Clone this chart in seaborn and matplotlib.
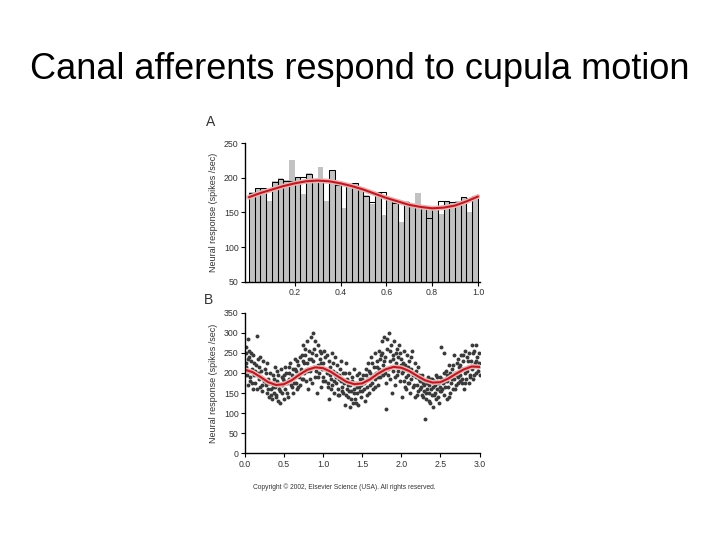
import matplotlib
matplotlib.use("Agg")
import matplotlib.pyplot as plt
import seaborn as sns
import numpy as np
import pandas as pd

sns.set_style("white")
plt.rcParams['font.family'] = ['Liberation Sans', 'DejaVu Sans']

# panel A: spike counts per bin over one cycle (grey bars and open outlined bars)
bin_lefts = [i / 40 for i in range(40)]
gray_rate = [179, 184, 186, 167, 195, 199, 197, 226, 200, 177,
             207, 193, 215, 167, 211, 190, 156, 192, 192, 183,
             175, 162, 180, 146, 170, 165, 137, 166, 160, 178,
             160, 159, 158, 148, 167, 165, 166, 173, 151, 174]
open_rate = [178, 185, 186, 183, 194, 198, 196, 196, 201, 201,
             206, 197, 195, 194, 211, 190, 190, 191, 192, 182,
             174, 165, 179, 179, 169, 164, 164, 165, 160, 161,
             160, 142, 157, 167, 166, 165, 165, 172, 171, 174]
fit_a_x = [0.0, 0.05, 0.1, 0.15, 0.2, 0.25, 0.3, 0.35, 0.4, 0.45, 0.5,
           0.55, 0.6, 0.65, 0.7, 0.75, 0.8, 0.85, 0.9, 0.95, 1.0]
fit_a_y = [172, 178, 183, 188, 192, 195, 196, 195, 192, 188, 183,
           177, 171, 166, 161, 158, 156, 157, 160, 166, 173]

# panel B: individual responses over three cycles
b_x = [0.01, 0.02, 0.02, 0.03, 0.04, 0.05, 0.05, 0.06, 0.07, 0.08, 0.09, 0.10, 0.11, 0.12, 0.13, 0.14, 0.15, 0.17, 0.18, 0.19, 0.20, 0.21, 0.22, 0.24,
       0.26, 0.27, 0.28, 0.29, 0.30, 0.31, 0.32, 0.33, 0.34, 0.35, 0.36, 0.37, 0.38, 0.39, 0.40, 0.41, 0.42, 0.43, 0.44, 0.45, 0.46, 0.47, 0.48, 0.49,
       0.50, 0.51, 0.52, 0.54, 0.55, 0.56, 0.57, 0.58, 0.60, 0.61, 0.62, 0.63, 0.64, 0.65, 0.66, 0.67, 0.68, 0.69, 0.70, 0.71, 0.72, 0.73, 0.74,
       0.75, 0.76, 0.77, 0.78, 0.79, 0.80, 0.81, 0.82, 0.83, 0.84, 0.85, 0.86, 0.87, 0.88, 0.89, 0.90, 0.91, 0.92, 0.93, 0.94, 0.95, 0.96, 0.97, 0.98, 0.99,
       1.00, 1.01, 1.02, 1.03, 1.05, 1.06, 1.07, 1.08, 1.09, 1.10, 1.11, 1.12, 1.13, 1.14, 1.15, 1.16, 1.17, 1.18, 1.19, 1.20, 1.21, 1.22, 1.23, 1.24,
       1.25, 1.26, 1.27, 1.28, 1.29, 1.30, 1.31, 1.32, 1.33, 1.34, 1.35, 1.36, 1.37, 1.38, 1.39, 1.40, 1.41, 1.42, 1.43, 1.44, 1.45, 1.46, 1.47, 1.48, 1.49,
       1.50, 1.51, 1.52, 1.54, 1.55, 1.56, 1.57, 1.58, 1.59, 1.60, 1.61, 1.62, 1.63, 1.64, 1.65, 1.66, 1.67, 1.68, 1.69, 1.70, 1.71, 1.72, 1.73, 1.74,
       1.75, 1.76, 1.77, 1.78, 1.79, 1.80, 1.81, 1.82, 1.83, 1.84, 1.85, 1.86, 1.87, 1.88, 1.89, 1.90, 1.91, 1.92, 1.93, 1.94, 1.95, 1.96, 1.97, 1.98, 1.99,
       2.00, 2.01, 2.02, 2.03, 2.04, 2.05, 2.06, 2.07, 2.08, 2.09, 2.10, 2.11, 2.12, 2.13, 2.14, 2.15, 2.16, 2.17, 2.18, 2.19, 2.20, 2.21, 2.22, 2.23, 2.24,
       2.25, 2.26, 2.27, 2.28, 2.29, 2.30, 2.31, 2.32, 2.33, 2.34, 2.35, 2.36, 2.37, 2.38, 2.39, 2.40, 2.41, 2.42, 2.43, 2.44, 2.45, 2.46, 2.47, 2.48, 2.49,
       2.50, 2.51, 2.52, 2.53, 2.54, 2.55, 2.56, 2.57, 2.58, 2.59, 2.60, 2.61, 2.62, 2.63, 2.64, 2.65, 2.66, 2.67, 2.68, 2.69, 2.70, 2.71, 2.72, 2.73, 2.74,
       2.75, 2.76, 2.77, 2.78, 2.79, 2.80, 2.81, 2.82, 2.83, 2.84, 2.85, 2.86, 2.87, 2.88, 2.89, 2.90, 2.91, 2.92, 2.93, 2.94, 2.95, 2.96, 2.97, 2.98, 2.99, 3.00]
b_y = [250, 265, 225, 195, 285, 240, 205, 255, 180, 230, 210, 160, 245, 195, 175, 220, 292, 200, 185, 165, 240, 205, 155, 180,
       210, 170, 150, 225, 185, 140, 200, 160, 175, 135, 195, 150, 215, 165, 145, 180, 130, 195, 160, 125, 210, 170, 150, 185,
       195, 160, 215, 175, 140, 200, 185, 225, 165, 210, 150, 190, 235, 175, 205, 160, 220, 190, 240, 170, 210, 185, 230,
       270, 200, 245, 180, 280, 225, 160, 255, 205, 290, 235, 175, 300, 215, 260, 190, 245, 150, 270, 220, 200, 235, 165, 250, 210,
       225, 255, 180, 240, 200, 165, 230, 135, 215, 185, 250, 170, 205, 150, 240, 190, 175, 220, 160, 195, 145, 210, 180, 165,
       200, 150, 175, 120, 225, 160, 185, 140, 200, 115, 170, 155, 190, 125, 160, 210, 135, 175, 150, 195, 120, 165, 185, 140, 170,
       155, 195, 175, 130, 210, 165, 185, 225, 150, 200, 240, 175, 190, 160, 215, 250, 185, 200, 230, 170, 255, 210, 190, 245,
       280, 220, 195, 290, 240, 110, 175, 260, 210, 300, 230, 185, 270, 150, 245, 205, 280, 170, 225, 260, 195, 240, 215, 180, 250,
       235, 140, 205, 255, 180, 220, 160, 245, 195, 175, 230, 150, 210, 185, 255, 165, 200, 140, 225, 190, 170, 215, 155, 195, 180,
       165, 145, 195, 175, 155, 85, 180, 135, 160, 190, 150, 170, 125, 185, 145, 165, 115, 180, 150, 195, 135, 160, 175, 125, 155,
       190, 265, 160, 175, 145, 250, 180, 205, 135, 195, 165, 220, 150, 190, 175, 210, 160, 245, 185, 200, 170, 225, 190, 175, 215,
       195, 245, 175, 210, 230, 160, 255, 200, 185, 240, 215, 175, 250, 195, 230, 270, 210, 185, 255, 225, 200, 270, 240, 215, 250, 195]
b2_x = [0.015, 0.035, 0.045, 0.065, 0.085, 0.095, 0.115, 0.135, 0.155, 0.165, 0.185, 0.205, 0.225, 0.235,
        0.255, 0.275, 0.295, 0.315, 0.335, 0.355, 0.375, 0.395, 0.415, 0.435, 0.455, 0.475, 0.495,
        0.505, 0.525, 0.545, 0.565, 0.585, 0.605, 0.625, 0.645, 0.665, 0.685, 0.705, 0.725, 0.745,
        0.755, 0.775, 0.795, 0.815, 0.835, 0.855, 0.875, 0.895, 0.915, 0.935, 0.955, 0.975, 0.995,
        1.005, 1.025, 1.045, 1.065, 1.085, 1.105, 1.125, 1.145, 1.165, 1.185, 1.205, 1.225, 1.245,
        1.255, 1.275, 1.295, 1.315, 1.335, 1.355, 1.375, 1.395, 1.415, 1.435, 1.455, 1.475, 1.495,
        1.505, 1.525, 1.545, 1.565, 1.585, 1.605, 1.625, 1.645, 1.665, 1.685, 1.705, 1.725, 1.745,
        1.755, 1.775, 1.795, 1.815, 1.835, 1.855, 1.875, 1.895, 1.915, 1.935, 1.955, 1.975, 1.995,
        2.005, 2.025, 2.045, 2.065, 2.085, 2.105, 2.125, 2.145, 2.165, 2.185, 2.205, 2.225, 2.245,
        2.255, 2.275, 2.295, 2.315, 2.335, 2.355, 2.375, 2.395, 2.415, 2.435, 2.455, 2.475, 2.495,
        2.505, 2.525, 2.545, 2.565, 2.585, 2.605, 2.625, 2.645, 2.665, 2.685, 2.705, 2.725, 2.745,
        2.755, 2.775, 2.795, 2.815, 2.835, 2.855, 2.875, 2.895, 2.915, 2.935, 2.955, 2.975, 2.995]
b2_y = [215, 170, 235, 190, 250, 175, 225, 205, 160, 235, 215, 190, 170, 230,
        180, 200, 160, 175, 145, 165, 185, 140, 205, 170, 155, 190, 135,
        180, 200, 150, 215, 170, 195, 175, 210, 230, 165, 200, 245, 185,
        225, 260, 205, 235, 185, 250, 230, 280, 205, 190, 255, 225, 180,
        190, 210, 245, 175, 195, 160, 225, 180, 200, 145, 185, 230, 155,
        180, 200, 145, 170, 155, 135, 180, 150, 125, 165, 200, 155, 185,
        180, 160, 195, 145, 205, 170, 225, 195, 165, 215, 190, 235, 200,
        250, 230, 200, 285, 195, 255, 215, 235, 190, 250, 205, 270, 220,
        200, 225, 165, 190, 215, 175, 240, 195, 170, 205, 145, 185, 160,
        185, 140, 170, 150, 175, 130, 160, 185, 145, 170, 190, 140, 165,
        155, 185, 200, 165, 180, 140, 200, 185, 220, 160, 195, 235, 180,
        220, 185, 245, 175, 205, 230, 190, 215, 250, 195, 230, 205, 225]
fit_b_x = [0.0, 0.1, 0.2, 0.3, 0.4, 0.5, 0.6, 0.7, 0.8, 0.9, 1.0,
           1.1, 1.2, 1.3, 1.4, 1.5, 1.6, 1.7, 1.8, 1.9, 2.0,
           2.1, 2.2, 2.3, 2.4, 2.5, 2.6, 2.7, 2.8, 2.9, 3.0]
fit_b_y = [208, 202, 190, 177, 170, 172, 182, 196, 208, 214, 212,
           203, 190, 178, 172, 174, 184, 198, 209, 215, 213,
           205, 193, 182, 176, 177, 186, 198, 209, 216, 215]

ylab = "Neural response (spikes /sec)"
red = "#b01f27"
glow = "#f3b0b0"
tick_col = "#333333"

fig = plt.figure(figsize=(7.2, 5.4), dpi=100)
fig.patch.set_facecolor("white")
fig.text(0.5, 0.872, "Canal afferents respond to cupula motion",
         ha="center", va="center", fontsize=26, color="black")

# ---- panel A
axA = fig.add_axes([0.340, 0.478, 0.327, 0.257])
dfa = pd.DataFrame({"t": [b + 0.0125 for b in bin_lefts], "g": gray_rate, "o": open_rate})
sns.histplot(data=dfa, x="t", weights="g", bins=40, binrange=(0, 1),
             color="#c2c2c2", edgecolor="none", alpha=1, ax=axA)
sns.histplot(data=dfa, x="t", weights="o", bins=40, binrange=(0, 1),
             fill=False, color="black", linewidth=0.75, element="bars", ax=axA)
sns.lineplot(x=fit_a_x, y=fit_a_y, color=glow, linewidth=3.6, ax=axA)
sns.lineplot(x=fit_a_x, y=fit_a_y, color=red, linewidth=1.5, ax=axA)
axA.set_xlim(-0.018, 1.01)
axA.set_ylim(50, 250)
axA.set_yticks([50, 100, 150, 200, 250])
axA.set_xticks([0.2, 0.4, 0.6, 0.8, 1.0])
axA.set_xticklabels(["0.2", "0.4", "0.6", "0.8", "1.0"])

# ---- panel B
axB = fig.add_axes([0.340, 0.1606, 0.326, 0.2603])
sns.scatterplot(x=b_x + b2_x, y=b_y + b2_y, color="#3a3a3a", s=8, linewidth=0, ax=axB)
sns.lineplot(x=fit_b_x, y=fit_b_y, color=glow, linewidth=3.6, ax=axB)
sns.lineplot(x=fit_b_x, y=fit_b_y, color=red, linewidth=1.5, ax=axB)
axB.set_xlim(0, 3.0)
axB.set_ylim(0, 350)
axB.set_yticks(range(0, 351, 50))
axB.set_xticks([0, 0.5, 1.0, 1.5, 2.0, 2.5, 3.0])
axB.set_xticklabels(["0.0", "0.5", "1.0", "1.5", "2.0", "2.5", "3.0"])

for ax in (axA, axB):
    ax.set_facecolor("white")
    for s in ("top", "right"):
        ax.spines[s].set_visible(False)
    for s in ("left", "bottom"):
        ax.spines[s].set_color("black")
        ax.spines[s].set_linewidth(1.0)
    ax.tick_params(axis="both", direction="out", length=3, width=0.8,
                   labelsize=6.3, colors="black", labelcolor=tick_col, pad=1.5,
                   left=True, bottom=True)
    ax.set_xlabel("")
    ax.set_ylabel(ylab, fontsize=6.5, color=tick_col, labelpad=4)

fig.text(0.286, 0.775, "A", fontsize=10, color=tick_col, ha="left", va="center")
fig.text(0.283, 0.445, "B", fontsize=10, color=tick_col, ha="left", va="center")
fig.text(0.478, 0.098, "Copyright \u00a9 2002, Elsevier Science (USA). All rights reserved.",
         fontsize=4.8, color=tick_col, ha="center", va="center")

fig.savefig("out.png", dpi=100, facecolor="white")
